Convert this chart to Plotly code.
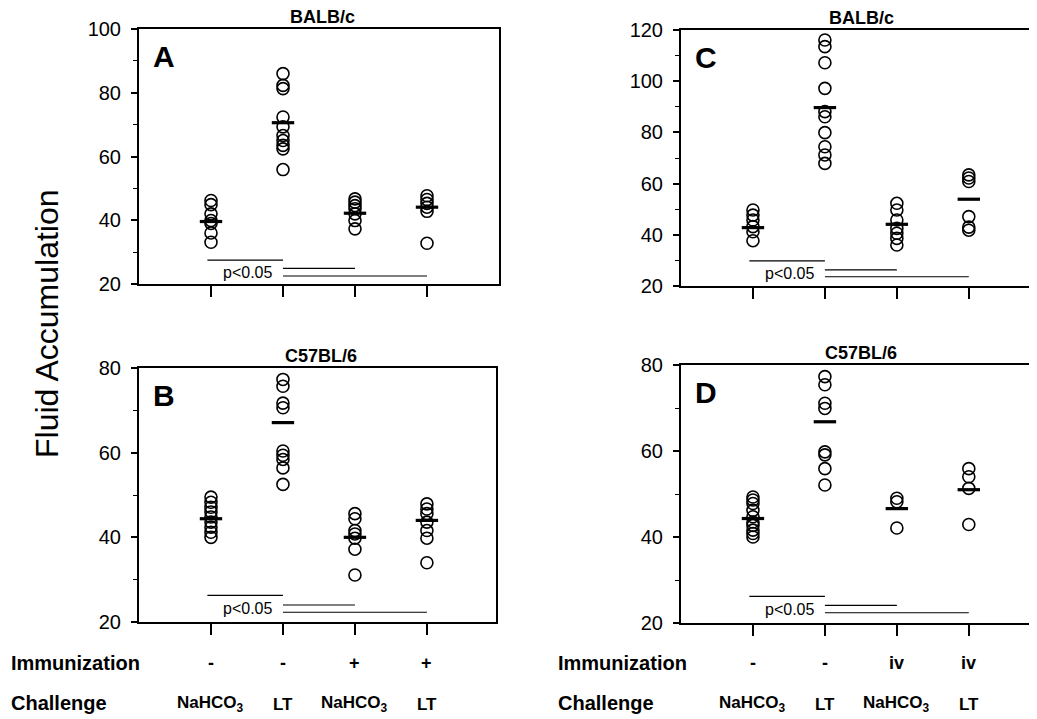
import plotly.graph_objects as go

# ---------------- data ----------------
challenge = ["NaHCO<sub>3</sub>", "LT", "NaHCO<sub>3</sub>", "LT"]
immun_left = ["-", "-", "+", "+"]
immun_right = ["-", "-", "iv", "iv"]

A_values = [
    [46.2, 44.9, 42.0, 39.9, 39.0, 36.0, 33.1],
    [86.0, 82.3, 81.3, 72.4, 69.3, 66.6, 65.0, 63.5, 62.4, 55.9],
    [46.7, 45.7, 44.6, 43.6, 42.0, 39.9, 37.3],
    [47.7, 46.5, 45.3, 44.1, 42.8, 32.8],
]
A_means = [39.6, 70.6, 42.2, 44.1]
A_sig = [27.5, 24.9, 22.5]

B_values = [
    [49.5, 48.3, 47.1, 46.0, 44.8, 43.6, 42.4, 41.2, 40.0],
    [77.3, 75.7, 71.7, 70.6, 60.4, 59.4, 58.4, 56.4, 52.5],
    [45.6, 44.4, 41.6, 40.8, 39.8, 37.2, 31.1],
    [47.9, 46.7, 45.6, 43.6, 41.6, 39.8, 34.0],
]
B_means = [44.4, 67.1, 40.0, 44.0]
B_sig = [26.3, 24.0, 22.3]

C_values = [
    [49.7, 47.7, 45.8, 43.2, 41.2, 37.7],
    [116.1, 113.5, 107.2, 97.2, 88.1, 86.1, 79.9, 74.4, 71.2, 67.9],
    [52.3, 49.7, 45.8, 42.5, 40.6, 38.6, 36.0],
    [63.4, 62.2, 60.8, 47.1, 43.0, 41.8],
]
C_means = [42.8, 89.7, 44.1, 53.9]
C_sig = [29.8, 26.3, 23.6]

D_values = [
    [49.3, 48.6, 47.8, 46.2, 44.7, 43.5, 42.7, 41.6, 40.8, 40.0],
    [77.3, 75.4, 71.1, 69.9, 59.8, 59.1, 55.9, 52.1],
    [49.0, 48.2, 42.1],
    [55.9, 54.0, 51.3, 42.9],
]
D_means = [44.3, 66.8, 46.6, 51.0]
D_sig = [26.2, 24.1, 22.4]

panel_titles = ["BALB/c", "C57BL/6", "BALB/c", "C57BL/6"]
panel_letters = ["A", "B", "C", "D"]
y_ranges = [(20, 100), (20, 80), (20, 120), (20, 80)]

# ---------------- figure ----------------
W, H = 1037, 719
OFF = 8  # page body margin
FONT = "Liberation Sans, Arial, Helvetica, sans-serif"
NARROW = "Liberation Sans Narrow, Liberation Sans, Arial, sans-serif"

def px(x):
    return (x - OFF) / W

def py(y):
    return 1 - (y - OFF) / H

# panel boxes in screen pixels: (left, right, top, bottom, xmax)
boxes = [
    (139, 499, 29, 284, 5.0),
    (139, 496, 368, 622, 4.96),
    (681, 1035, 30, 286, 4.92),
    (681, 1035, 365, 623, 4.92),
]

panels = [
    (A_values, A_means, A_sig),
    (B_values, B_means, B_sig),
    (C_values, C_means, C_sig),
    (D_values, D_means, D_sig),
]

fig = go.Figure()
layout = dict(
    width=W, height=H,
    margin=dict(l=0, r=0, t=0, b=0, pad=0, autoexpand=False),
    paper_bgcolor="white", plot_bgcolor="white",
    showlegend=False,
    font=dict(family=FONT, color="black"),
)
annotations = []

for i, ((vals, means, sig), (l, r, t, b, xmax)) in enumerate(zip(panels, boxes)):
    n = i + 1
    xa = "x" if n == 1 else f"x{n}"
    ya = "y" if n == 1 else f"y{n}"
    xkey = "xaxis" if n == 1 else f"xaxis{n}"
    ykey = "yaxis" if n == 1 else f"yaxis{n}"

    # individual points
    for g, v in enumerate(vals):
        fig.add_trace(go.Scatter(
            x=[g + 1] * len(v), y=v, mode="markers",
            marker=dict(symbol="circle-open", size=12, color="black",
                        line=dict(width=1.6, color="black")),
            xaxis=xa, yaxis=ya, hoverinfo="y"))
    # mean bars
    fig.add_trace(go.Scatter(
        x=[g + 1 for g in range(len(means))], y=means, mode="markers",
        marker=dict(symbol="line-ew", size=16, color="black",
                    line=dict(width=3.2, color="black")),
        xaxis=xa, yaxis=ya, hoverinfo="y"))
    # significance lines
    spans = [(0.95, 2.0), (2.0, 3.0), (2.0, 4.0)]
    for (x0, x1), yv in zip(spans, sig):
        fig.add_trace(go.Scatter(
            x=[x0, x1], y=[yv, yv], mode="lines",
            line=dict(color="black", width=1.1),
            xaxis=xa, yaxis=ya, hoverinfo="skip"))

    y0, y1 = y_ranges[i]
    major = 20
    layout[xkey] = dict(
        domain=[px(l), px(r)], range=[0, xmax], anchor=ya,
        tickvals=[1, 2, 3, 4], ticktext=["", "", "", ""],
        ticks="outside", ticklen=11, tickwidth=1.5, tickcolor="black",
        showline=True, linecolor="black", linewidth=2, mirror=True,
        showgrid=False, zeroline=False, fixedrange=True,
    )
    layout[ykey] = dict(
        domain=[py(b), py(t)], range=[y0, y1], anchor=xa,
        tickvals=list(range(y0, y1 + 1, major)),
        ticks="outside", ticklen=6, tickwidth=1.5, tickcolor="black",
        minor=dict(tickvals=list(range(y0 + 10, y1, major)), ticks="outside",
                   ticklen=4, tickwidth=1.2, tickcolor="black"),
        tickfont=dict(size=20, family=FONT, color="black"),
        ticklabelstandoff=6,
        showline=True, linecolor="black", linewidth=2, mirror=True,
        showgrid=False, zeroline=False, fixedrange=True,
    )

    # p<0.05 label
    annotations.append(dict(
        x=1.87, y=(sig[1] + sig[2]) / 2, xref=xa, yref=ya,
        text="p<0.05", showarrow=False, xanchor="right", yanchor="middle",
        font=dict(size=16, family=FONT, color="black")))
    # panel title
    annotations.append(dict(
        x=px((l + r) / 2 + 3), y=py(t - 12), xref="paper", yref="paper",
        text=f"<b>{panel_titles[i]}</b>", showarrow=False,
        xanchor="center", yanchor="middle",
        font=dict(size=18, family=FONT, color="black")))
    # panel letter
    annotations.append(dict(
        x=px(l + 12), y=py(t + 27), xref="paper", yref="paper",
        text=f"<b>{panel_letters[i]}</b>", showarrow=False,
        xanchor="left", yanchor="middle",
        font=dict(size=30, family=FONT, color="black")))

# y axis title
annotations.append(dict(
    x=px(47), y=py(324), xref="paper", yref="paper",
    text="Fluid Accumulation", showarrow=False, textangle=-90,
    xanchor="center", yanchor="middle",
    font=dict(size=32, family=FONT, color="black")))

# bottom row labels
for xref_ax, imm, left_px in [("x2", immun_left, 9), ("x4", immun_right, 556)]:
    annotations.append(dict(
        x=px(left_px), y=py(663), xref="paper", yref="paper",
        text="<b>Immunization</b>", showarrow=False,
        xanchor="left", yanchor="middle",
        font=dict(size=20, family=NARROW, color="black")))
    annotations.append(dict(
        x=px(left_px), y=py(703), xref="paper", yref="paper",
        text="<b>Challenge</b>", showarrow=False,
        xanchor="left", yanchor="middle",
        font=dict(size=20, family=NARROW, color="black")))
    for g in range(4):
        annotations.append(dict(
            x=g + 1, y=py(663), xref=xref_ax, yref="paper",
            text=f"<b>{imm[g]}</b>", showarrow=False,
            xanchor="center", yanchor="middle",
            font=dict(size=18, family=FONT, color="black")))
        annotations.append(dict(
            x=g + 1, y=py(704), xref=xref_ax, yref="paper",
            text=f"<b>{challenge[g]}</b>", showarrow=False,
            xanchor="center", yanchor="middle",
            font=dict(size=17, family=NARROW, color="black")))

layout["annotations"] = annotations
fig.update_layout(**layout)
fig.write_html("out.html")
